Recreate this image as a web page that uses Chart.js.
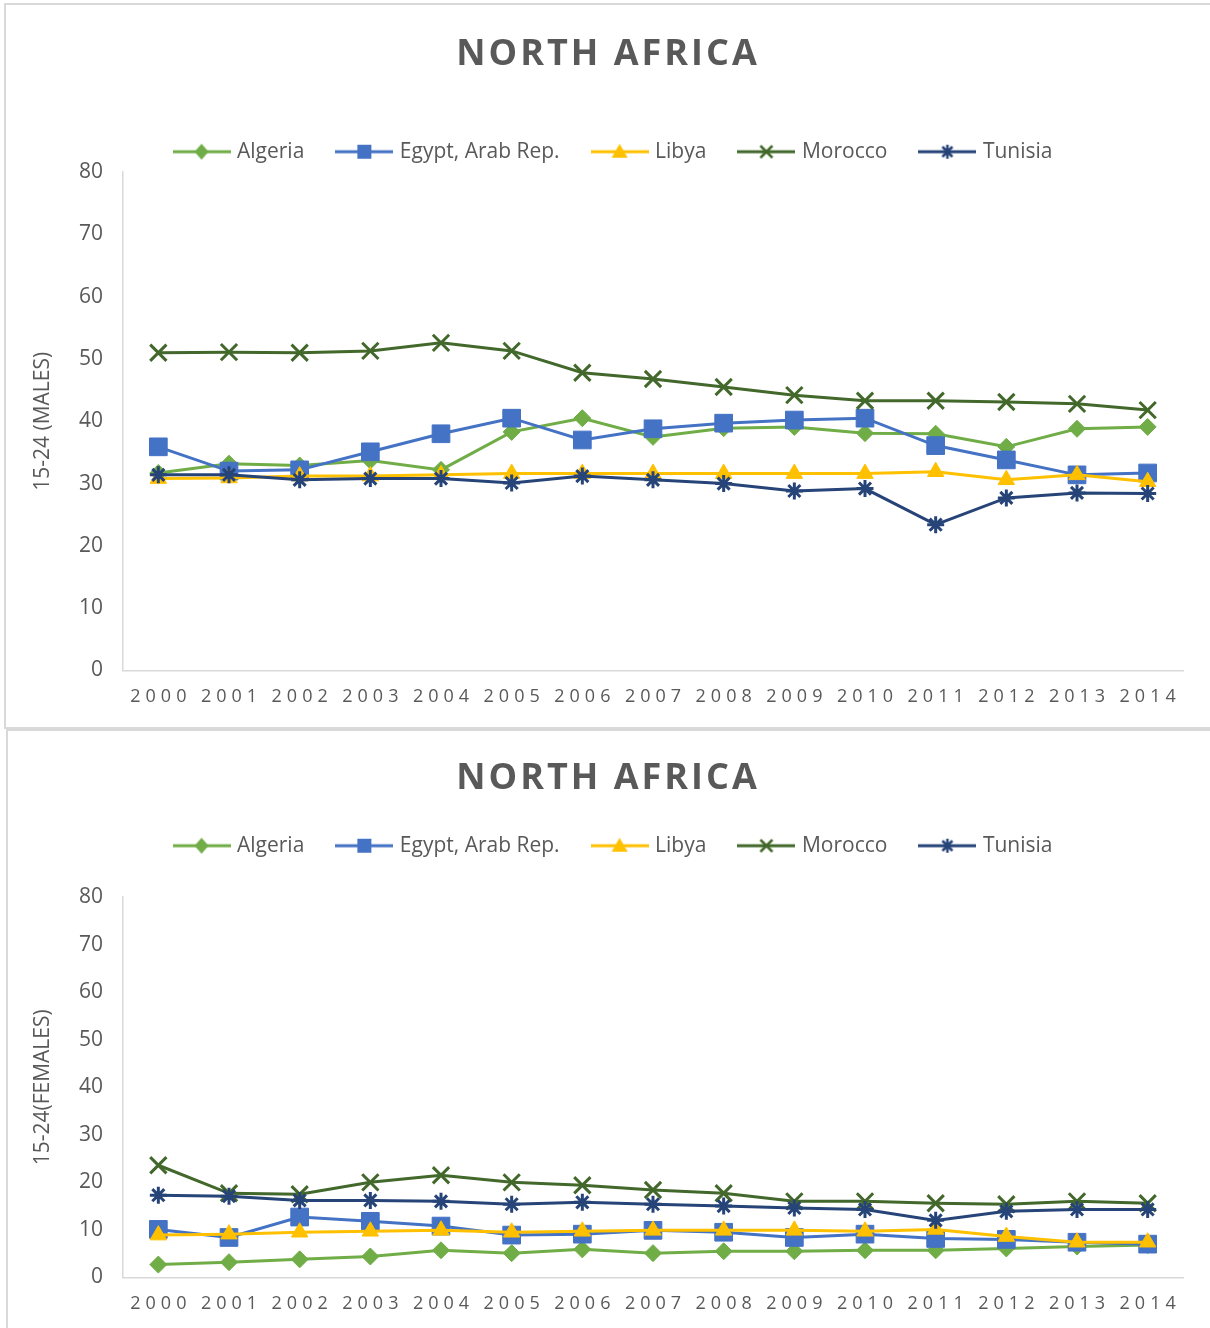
<!DOCTYPE html>
<html>
<head>
<meta charset="utf-8">
<script src="https://cdn.jsdelivr.net/npm/chart.js@4/dist/chart.umd.min.js"></script>
<style>
  html, body { margin: 0; padding: 0; background: #fff; overflow: hidden; }
  body { width: 1210px; height: 1328px; position: relative; }
  .panel { position: absolute; border: 2px solid #d9d9d9; box-sizing: border-box; }
  canvas { position: absolute; left: 0; }
</style>
</head>
<body>
<div class="panel" style="left:4px; top:3px; width:1230px; height:726px;"></div>
<div class="panel" style="left:6px; top:729px; width:1230px; height:620px;"></div>
<canvas id="males" width="1210" height="728" style="top:0;"></canvas>
<canvas id="females" width="1210" height="598" style="top:730px;"></canvas>
<script>
// years on the x axis
const years = ['2000', '2001', '2002', '2003', '2004', '2005', '2006', '2007',
  '2008', '2009', '2010', '2011', '2012', '2013', '2014'];
const countries = ['Algeria', 'Egypt, Arab Rep.', 'Libya', 'Morocco', 'Tunisia'];
const yTicks = [0, 10, 20, 30, 40, 50, 60, 70, 80];

// 15-24 males
const algeriaM = [31.7, 33.2, 32.9, 33.7, 32.2, 38.3, 40.5, 37.5, 38.9, 39.1, 38.1, 38.0, 35.9, 38.8, 39.1];
const egyptM = [35.9, 32.0, 32.2, 35.1, 38.0, 40.5, 37.0, 38.8, 39.7, 40.2, 40.5, 36.1, 33.8, 31.4, 31.7];
const libyaM = [30.8, 30.9, 31.2, 31.2, 31.4, 31.6, 31.6, 31.6, 31.6, 31.6, 31.6, 31.9, 30.6, 31.4, 30.3];
const moroccoM = [51.0, 51.1, 51.0, 51.3, 52.6, 51.3, 47.8, 46.8, 45.5, 44.2, 43.3, 43.3, 43.1, 42.8, 41.8];
const tunisiaM = [31.4, 31.4, 30.6, 30.8, 30.8, 30.1, 31.2, 30.6, 30.0, 28.8, 29.2, 23.4, 27.7, 28.5, 28.4];

// 15-24 females
const algeriaF = [2.7, 3.2, 3.8, 4.4, 5.7, 5.1, 5.9, 5.1, 5.5, 5.5, 5.7, 5.7, 6.1, 6.5, 6.8];
const egyptF = [10.1, 8.4, 12.7, 11.8, 10.8, 8.9, 9.1, 9.9, 9.5, 8.4, 9.1, 8.2, 8.0, 7.4, 7.0];
const libyaF = [8.9, 9.1, 9.5, 9.7, 9.9, 9.5, 9.7, 9.9, 9.9, 9.9, 9.7, 10.1, 8.6, 7.4, 7.4];
const moroccoF = [23.6, 17.7, 17.5, 20.0, 21.5, 20.0, 19.4, 18.4, 17.7, 16.0, 16.0, 15.6, 15.4, 16.0, 15.6];
const tunisiaF = [17.3, 17.1, 16.2, 16.2, 16.0, 15.4, 15.8, 15.4, 15.0, 14.6, 14.3, 12.0, 13.9, 14.3, 14.3];

const colors = ['#70AD47', '#4472C4', '#FFC000', '#43682B', '#264478'];
const styles = ['rectRot', 'rect', 'triangle', 'crossRot', 'star'];
const radii = [8.5, 12.5, 9.5, 11.5, 8.5];
const textColor = '#595959';
const FONT = "'Open Sans', sans-serif";

// small line+marker picture for the legend, like excel
function legendIcon(color, style) {
  const c = document.createElement('canvas');
  c.width = 58; c.height = 20;
  const g = c.getContext('2d');
  g.strokeStyle = color; g.fillStyle = color; g.lineWidth = 3;
  g.beginPath(); g.moveTo(0, 10); g.lineTo(58, 10); g.stroke();
  const x = 29, y = 10;
  g.beginPath();
  if (style === 'rectRot') {
    g.moveTo(x - 7, y); g.lineTo(x, y - 8); g.lineTo(x + 7, y); g.lineTo(x, y + 8);
    g.closePath(); g.fill();
  } else if (style === 'rect') {
    g.fillRect(x - 7, y - 7, 14, 14);
  } else if (style === 'triangle') {
    g.moveTo(x, y - 8); g.lineTo(x + 8, y + 6); g.lineTo(x - 8, y + 6);
    g.closePath(); g.fill();
  } else if (style === 'crossRot') {
    g.lineWidth = 2.5;
    g.moveTo(x - 6, y - 6); g.lineTo(x + 6, y + 6);
    g.moveTo(x + 6, y - 6); g.lineTo(x - 6, y + 6); g.stroke();
  } else {
    g.lineWidth = 2.5;
    g.moveTo(x - 5, y - 5); g.lineTo(x + 5, y + 5);
    g.moveTo(x + 5, y - 5); g.lineTo(x - 5, y + 5);
    g.moveTo(x, y - 7); g.lineTo(x, y + 7); g.stroke();
  }
  return c;
}
const icons = colors.map((c, i) => legendIcon(c, styles[i]));

// push the plot down under the legend, nudge legend, space the title
function layoutTweaks(gap, legendShift) {
  return {
    id: 'layoutTweaks',
    beforeInit(chart) {
      const legend = chart.legend;
      const fit = legend.fit;
      legend.fit = function () {
        fit.bind(legend)();
        this.height += gap;
      };
      const ldraw = legend.draw;
      legend.draw = function () {
        const ctx = this.ctx;
        ctx.save();
        ctx.translate(legendShift, 0);
        ldraw.apply(this, arguments);
        ctx.restore();
      };
      const draw = chart.titleBlock.draw;
      chart.titleBlock.draw = function () {
        const ctx = this.ctx;
        ctx.save();
        ctx.letterSpacing = '3px';
        ctx.translate(1.5, 0);
        draw.apply(this, arguments);
        ctx.restore();
      };
    }
  };
}

function makeChart(id, series, yTitle, opt) {
  const datasets = series.map((data, i) => ({
    label: countries[i],
    data: data,
    borderColor: colors[i],
    backgroundColor: colors[i],
    borderWidth: 3,
    pointStyle: styles[i],
    pointRadius: radii[i],
    pointHoverRadius: radii[i],
    pointBackgroundColor: colors[i],
    pointBorderColor: colors[i],
    pointBorderWidth: (i >= 3) ? 3 : 1,
    tension: 0,
    order: 5 - i
  }));

  return new Chart(document.getElementById(id), {
    type: 'line',
    data: { labels: years, datasets: datasets },
    plugins: [layoutTweaks(opt.gap, 8)],
    options: {
      responsive: false,
      animation: false,
      layout: { padding: { left: 30, right: 27, top: 0, bottom: opt.bottom } },
      plugins: {
        tooltip: { enabled: false },
        title: {
          display: true,
          text: 'NORTH AFRICA',
          color: textColor,
          font: { family: FONT, size: 36, weight: 'bold' },
          padding: { top: opt.titleTop, bottom: opt.titleBottom }
        },
        legend: {
          display: true,
          position: 'top',
          labels: {
            color: textColor,
            font: { family: FONT, size: 21 },
            usePointStyle: true,
            pointStyleWidth: 50,
            padding: 35,
            generateLabels(chart) {
              const items = Chart.defaults.plugins.legend.labels.generateLabels(chart);
              items.sort((a, b) => a.datasetIndex - b.datasetIndex);
              items.forEach(it => { it.pointStyle = icons[it.datasetIndex]; });
              return items;
            }
          }
        }
      },
      scales: {
        x: {
          offset: true,
          grid: { display: false, drawTicks: false },
          border: { display: true, color: '#d9d9d9', width: 1.5 },
          ticks: {
            color: textColor,
            font: { family: FONT, size: 18 },
            padding: 16,
            maxRotation: 0,
            autoSkip: false
          },
          afterFit(scale) {
            if (!scale._spaced) {
              const orig = scale.drawLabels;
              scale.drawLabels = function (area) {
                const ctx = this.ctx;
                ctx.save();
                ctx.letterSpacing = '5px';
                ctx.translate(2.5, 0);
                orig.call(this, area);
                ctx.restore();
              };
              scale._spaced = true;
            }
          }
        },
        y: {
          min: 0,
          max: 80,
          afterBuildTicks(scale) { scale.ticks = yTicks.map(v => ({ value: v })); },
          grid: { display: false, drawTicks: false },
          border: { display: true, color: '#d9d9d9', width: 1.5 },
          ticks: {
            color: textColor,
            font: { family: FONT, size: 21 },
            padding: 20
          },
          title: {
            display: true,
            text: yTitle,
            color: textColor,
            font: { family: FONT, size: 21 },
            padding: { top: 0, bottom: 0 }
          },
          afterFit(scale) { scale.width = 93; }
        }
      }
    }
  });
}

makeChart('males', [algeriaM, egyptM, libyaM, moroccoM, tunisiaM], '15-24 (MALES)',
  { gap: 0, bottom: 4, titleTop: 33, titleBottom: 30 });
makeChart('females', [algeriaF, egyptF, libyaF, moroccoF, tunisiaF], '15-24(FEMALES)',
  { gap: 31, bottom: -3, titleTop: 27, titleBottom: 0 });
</script>
</body>
</html>
